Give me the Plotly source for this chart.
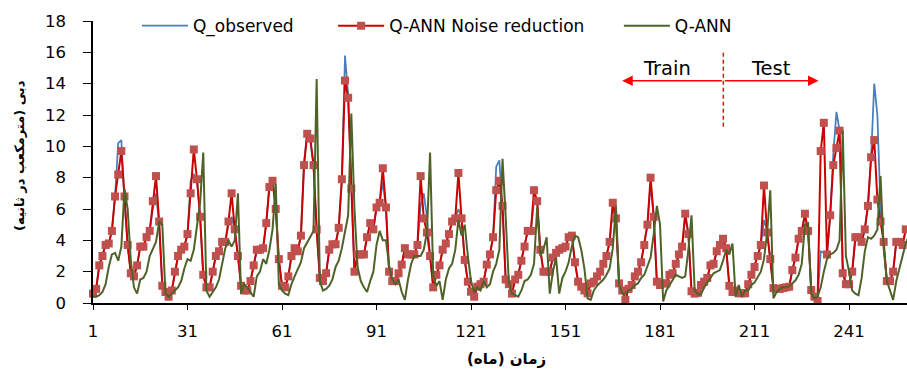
import plotly.graph_objects as go

months = list(range(1, 261))
tick_vals = [1, 31, 61, 91, 121, 151, 181, 211, 241]
tick_text = [str(v) for v in tick_vals]

q_observed = [
    0.6, 0.9, 2.4, 3.0, 3.7, 3.8, 4.6, 6.8, 10.2, 10.4, 6.5, 3.7,
    1.9, 1.7, 2.4, 3.6, 3.6, 4.2, 4.6, 6.0, 7.0, 5.0, 1.1, 0.7,
    0.4, 0.8, 2.0, 3.0, 3.4, 3.6, 4.4, 7.8, 8.2, 7.9, 5.5, 1.8,
    1.0, 1.0, 2.0, 3.0, 3.3, 3.9, 3.9, 5.0, 5.5, 4.7, 3.0, 1.1,
    0.8, 0.8, 1.4, 2.4, 3.4, 3.4, 3.5, 5.1, 7.6, 8.0, 6.0, 2.8,
    1.1, 1.0, 1.7, 3.0, 3.5, 3.3, 4.3, 9.0, 10.9, 10.3, 8.8, 4.7,
    1.6, 1.4, 1.9, 3.4, 3.75, 3.75, 4.8, 7.9, 15.8, 13.3, 7.3, 2.0,
    3.1, 3.1, 3.1, 4.2, 5.1, 4.7, 6.1, 6.4, 7.7, 6.1, 2.0, 1.4,
    1.4, 1.9, 2.45, 3.5, 3.1, 3.1, 3.1, 3.7, 6.2, 7.0, 5.5, 3.0,
    1.0, 1.8, 2.4, 3.4, 3.8, 4.4, 5.2, 5.4, 6.0, 5.4, 2.75, 1.36,
    0.72, 0.4, 1.04, 1.2, 1.36, 2.45, 3.1, 4.2, 8.7, 9.1, 6.0, 1.5,
    1.2, 0.6, 1.5, 1.8, 2.7, 3.6, 4.6, 4.6, 6.5, 6.5, 3.4, 2.0,
    2.0, 2.0, 2.9, 3.2, 3.4, 3.5, 3.6, 4.2, 4.3, 2.6, 1.36, 1.04,
    0.8, 0.62, 1.25, 1.36, 1.7, 2.0, 2.5, 3.0, 3.9, 6.0, 5.4, 1.25,
    0.8, 0.2, 0.9, 1.15, 1.7, 2.0, 2.6, 3.7, 5.0, 7.6, 5.5, 1.36,
    1.15, 1.25, 1.25, 1.8, 1.9, 2.5, 3.1, 3.6, 5.5, 4.4, 0.75, 0.6,
    0.65, 1.15, 1.36, 1.6, 2.4, 2.5, 3.3, 3.7, 4.0, 3.5, 1.1, 0.7,
    0.8, 0.62, 0.62, 0.62, 1.2, 1.8, 2.3, 3.0, 3.7, 5.3, 4.6, 2.8,
    0.95, 0.9, 0.9, 0.95, 1.0, 1.04, 2.1, 2.9, 4.1, 4.6, 5.5, 4.6,
    0.83, 0.4, 0.13, 3.3, 3.2, 3.2, 5.5, 9.5, 12.2, 11.0, 2.5, 1.2,
    1.2, 2.0, 4.0, 4.0, 3.9, 4.7, 6.2, 9.3, 14.0, 12.0, 6.0, 3.9,
    1.4, 1.4, 2.0, 3.9, 3.9, 3.7, 4.7, 4.8,
]

q_ann_noise_reduction = [
    0.6, 0.9, 2.4, 3.0, 3.7, 3.8, 4.6, 6.8, 8.2, 9.7, 6.8, 3.7,
    1.9, 1.7, 2.4, 3.6, 3.6, 4.2, 4.6, 6.5, 8.1, 5.2, 1.1, 0.7,
    0.4, 0.8, 2.0, 3.0, 3.4, 3.6, 4.4, 7.0, 9.8, 7.9, 5.5, 1.8,
    1.0, 1.0, 2.0, 3.0, 3.3, 3.9, 3.9, 5.2, 7.0, 4.7, 3.0, 1.1,
    0.8, 0.8, 1.4, 2.4, 3.4, 3.4, 3.5, 5.1, 7.4, 7.8, 6.0, 2.8,
    1.1, 1.0, 1.7, 3.0, 3.5, 3.3, 4.3, 8.8, 10.8, 10.5, 8.8, 4.7,
    1.6, 1.4, 1.9, 3.4, 3.75, 3.75, 4.8, 7.9, 14.2, 13.1, 7.3, 2.0,
    3.1, 3.1, 3.1, 4.2, 5.1, 4.7, 6.1, 6.4, 8.6, 6.1, 2.0, 1.4,
    1.4, 1.9, 2.45, 3.5, 3.1, 3.1, 3.1, 3.7, 8.1, 5.4, 4.5, 3.0,
    1.0, 1.8, 2.4, 3.4, 3.8, 4.4, 5.2, 5.4, 8.3, 5.4, 2.75, 1.36,
    0.72, 0.4, 1.04, 1.2, 1.36, 2.45, 3.1, 4.2, 7.2, 7.8, 6.2, 1.5,
    1.2, 0.6, 1.5, 1.8, 2.7, 3.6, 4.6, 4.6, 7.2, 6.5, 3.4, 2.0,
    2.0, 2.0, 2.9, 3.2, 3.4, 3.5, 3.6, 4.2, 4.3, 2.6, 1.36, 1.04,
    0.8, 0.62, 1.25, 1.36, 1.7, 2.0, 2.5, 3.0, 3.9, 6.4, 5.4, 1.25,
    0.8, 0.2, 0.9, 1.15, 1.7, 2.0, 2.6, 3.7, 5.0, 8.0, 5.5, 1.36,
    1.15, 1.25, 1.25, 1.8, 1.9, 2.5, 3.1, 3.6, 5.7, 4.4, 0.75, 0.6,
    0.65, 1.15, 1.36, 1.6, 2.4, 2.5, 3.3, 3.7, 4.1, 3.5, 1.1, 0.7,
    0.8, 0.62, 0.62, 0.62, 1.2, 1.8, 2.3, 3.0, 3.7, 7.5, 4.5, 2.8,
    0.95, 0.9, 0.9, 0.95, 1.0, 1.04, 2.1, 2.9, 4.1, 4.6, 5.7, 4.6,
    0.83, 0.4, 0.13, 9.7, 11.5, 3.1, 5.6, 8.8, 9.9, 11.0, 1.9, 1.2,
    1.2, 2.0, 4.2, 4.2, 3.9, 4.7, 6.2, 9.3, 10.4, 6.6, 5.2, 3.9,
    1.4, 1.4, 2.0, 3.9, 3.9, 3.7, 4.7, 4.8,
]

q_ann = [
    0.4, 0.4, 0.5, 0.7, 1.2, 2.3, 3.1, 3.2, 2.7, 3.6, 7.3, 6.0,
    2.7, 1.0, 0.6, 1.5, 1.6, 2.0, 3.0, 3.4, 3.9, 5.2, 5.0, 0.6,
    0.4, 0.6, 0.8, 1.0, 1.4, 2.2, 2.8, 2.7, 3.4, 5.1, 6.4, 9.6,
    0.8, 0.4, 0.7, 1.0, 1.5, 2.5, 3.5, 4.0, 3.6, 4.0, 7.0, 0.6,
    1.2, 1.0, 0.7, 0.4, 1.7, 2.0, 2.8, 2.5, 3.4, 4.7, 7.6, 1.2,
    0.8, 0.6, 0.5, 1.2, 1.7, 2.2, 2.6, 3.5, 3.9, 4.2, 4.6, 14.3,
    1.4, 0.8, 0.9, 1.1, 1.5, 2.3, 2.7, 3.5, 4.5, 5.6, 12.1, 6.0,
    2.3, 1.4, 1.0, 0.7, 1.4, 2.0, 3.7, 4.6, 4.0, 4.0, 2.4, 1.5,
    1.2, 1.5, 0.7, 0.2, 1.5, 2.5, 3.0, 3.0, 3.0, 3.4, 4.5, 9.6,
    1.7, 1.1, 1.4, 0.2, 1.5, 2.2, 2.5, 3.4, 5.3, 4.3, 5.0, 3.0,
    1.4, 0.7, 1.0, 0.8, 1.4, 1.0, 1.2, 2.0, 2.5, 3.4, 9.2, 5.5,
    1.3, 0.6, 0.5, 0.4, 0.8, 1.4, 1.5, 1.8, 2.5, 6.1, 3.0, 3.4,
    4.2, 0.6, 2.0, 2.9, 0.6, 1.6, 2.0, 2.6, 3.6, 4.3, 4.2, 3.4,
    2.2, 0.3, 0.2, 0.8, 1.1, 1.3, 1.5, 1.8, 2.2, 3.5, 6.2, 1.2,
    0.6, 0.6, 0.8, 0.9, 1.15, 1.25, 1.6, 1.8, 2.3, 2.9, 4.4, 6.2,
    5.0, 0.1, 0.8, 1.15, 1.45, 1.8, 1.7, 1.6, 1.7, 3.4, 5.6, 0.8,
    0.55, 0.55, 1.0, 1.3, 1.6, 1.9, 2.0, 2.1, 2.7, 3.4, 3.1, 3.8,
    0.4, 1.15, 0.4, 0.8, 0.8, 1.15, 1.3, 1.65, 2.0, 2.8, 4.5, 7.2,
    0.3, 0.7, 0.9, 1.0, 1.0, 1.06, 1.25, 1.45, 1.8, 2.5, 5.0, 5.1,
    0.6, 0.3, 0.4, 1.0, 2.0, 2.8, 3.1, 3.2, 3.4, 4.0, 11.0, 3.0,
    2.0, 0.8, 0.6, 0.5, 1.6, 3.3, 4.2, 4.1, 4.3, 4.7, 8.1, 3.5,
    1.4, 0.8, 0.2, 1.4, 2.2, 3.0, 3.8, 4.3,
]

FONT = "DejaVu Sans"

fig = go.Figure()
fig.add_trace(go.Scatter(
    x=months, y=q_observed, mode="lines", name="Q_observed",
    line=dict(color="#4a7ebb", width=1.75), legend="legend"))
fig.add_trace(go.Scatter(
    x=months, y=q_ann_noise_reduction, mode="lines+markers",
    name="Q-ANN Noise reduction",
    line=dict(color="#cc0000", width=2),
    marker=dict(symbol="square", size=8, color="#c0504d",
                line=dict(width=0)),
    cliponaxis=False, legend="legend2"))
fig.add_trace(go.Scatter(
    x=months, y=q_ann, mode="lines", name="Q-ANN",
    line=dict(color="#4f6228", width=2), legend="legend3"))

legend_common = dict(orientation="h", yanchor="middle", xanchor="left",
                     bgcolor="rgba(0,0,0,0)", itemwidth=46,
                     font=dict(family=FONT, size=17, color="#000000"))

fig.update_layout(
    width=907, height=370, autosize=False,
    margin=dict(l=93, r=0, t=21, b=67),
    paper_bgcolor="white", plot_bgcolor="white",
    showlegend=True,
    legend=dict(x=0.054, y=0.982, **legend_common),
    legend2=dict(x=0.295, y=0.982, **legend_common),
    legend3=dict(x=0.646, y=0.982, **legend_common),
    xaxis=dict(range=[1, 259.4], tickmode="array", tickvals=tick_vals,
               ticktext=tick_text, showgrid=False, zeroline=False,
               showline=True, linecolor="#000000", linewidth=1.5,
               ticks="outside", ticklen=5, tickcolor="#000000",
               ticklabelstandoff=7,
               tickfont=dict(family=FONT, size=16.5, color="#000000")),
    yaxis=dict(range=[0, 18], tick0=0, dtick=2, showgrid=False,
               zeroline=False, showline=True, linecolor="#000000",
               linewidth=1.5, ticks="outside", ticklen=8,
               tickcolor="#000000", ticklabelstandoff=14,
               tickfont=dict(family=FONT, size=16.5, color="#000000")),
    shapes=[dict(type="line", xref="x", yref="y", x0=201.1, x1=201.1,
                 y0=11.25, y1=16.15,
                 line=dict(color="#ff0000", width=1.5, dash="4px,3px"))],
    annotations=[
        dict(x=169.0, y=14.19, ax=201.1, ay=14.19, xref="x", yref="y",
             axref="x", ayref="y", text="", showarrow=True, arrowhead=2,
             arrowsize=1.4, arrowwidth=1.5, arrowcolor="#ff0000"),
        dict(x=231.3, y=14.19, ax=201.1, ay=14.19, xref="x", yref="y",
             axref="x", ayref="y", text="", showarrow=True, arrowhead=2,
             arrowsize=1.4, arrowwidth=1.5, arrowcolor="#ff0000"),
        dict(x=183.1, y=14.95, xref="x", yref="y", text="Train",
             showarrow=False, font=dict(family=FONT, size=19.5, color="#000000")),
        dict(x=216.1, y=14.95, xref="x", yref="y", text="Test",
             showarrow=False, font=dict(family=FONT, size=19.5, color="#000000")),
        dict(x=0.508, y=-0.2, xref="paper", yref="paper",
             text="<b>زمان (ماه)</b>", showarrow=False,
             xanchor="center", yanchor="middle",
             font=dict(family=FONT, size=15, color="#000000")),
        dict(x=-0.0897, y=0.525, xref="paper", yref="paper",
             text="<b>دبی (مترمکعب در ثانیه)</b>", textangle=-90,
             showarrow=False, xanchor="center", yanchor="middle",
             font=dict(family=FONT, size=13, color="#000000")),
    ],
)

fig.write_html("out.html")
